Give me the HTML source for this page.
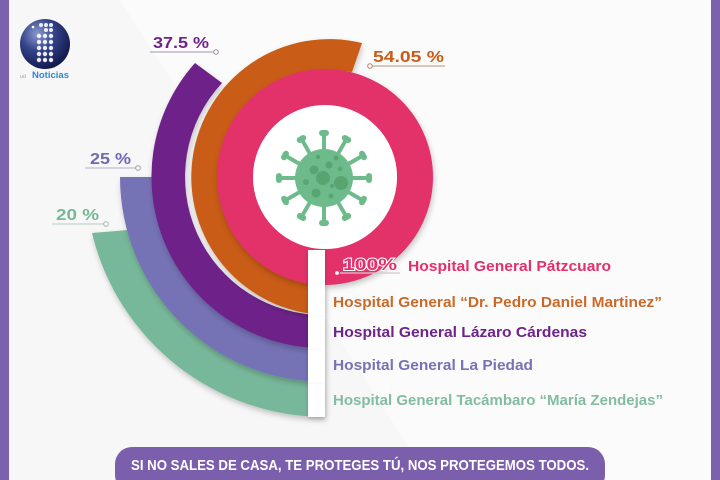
<!DOCTYPE html>
<html>
<head>
<meta charset="utf-8">
<style>
  html,body{margin:0;padding:0;background:#f8f8f8;}
  body{width:720px;height:480px;overflow:hidden;}
  svg{display:block;}
  text{font-family:"Liberation Sans",sans-serif;font-weight:bold;}
</style>
</head>
<body>
<svg width="720" height="480" viewBox="0 0 720 480" xmlns="http://www.w3.org/2000/svg">
  <defs>
    <filter id="sh" x="-20%" y="-20%" width="140%" height="140%">
      <feDropShadow dx="1" dy="3" stdDeviation="3" flood-color="#000" flood-opacity="0.22"/>
    </filter>
    <filter id="sh2" x="-50%" y="-50%" width="200%" height="200%">
      <feDropShadow dx="0" dy="2" stdDeviation="2" flood-color="#000" flood-opacity="0.18"/>
    </filter>
    <radialGradient id="globe" cx="35%" cy="30%" r="75%">
      <stop offset="0" stop-color="#8d9ad0"/>
      <stop offset="0.45" stop-color="#34438a"/>
      <stop offset="1" stop-color="#0f1748"/>
    </radialGradient>
  </defs>

  <!-- background -->
  <rect x="0" y="0" width="720" height="480" fill="#f7f7f7"/>
  <polygon points="120,0 712,0 712,480 430,480" fill="#fbfbfb"/>

  <!-- side bars -->
  <rect x="0" y="0" width="9" height="480" fill="#7b62ad"/>
  <rect x="711" y="0" width="9" height="480" fill="#7b62ad"/>

  <!-- logo -->
  <circle cx="45" cy="44" r="25" fill="url(#globe)"/>
  <g fill="#ffffff" opacity="0.9">
    <circle cx="41" cy="25" r="2"/><circle cx="46" cy="25" r="2"/><circle cx="51" cy="25" r="2"/>
    <circle cx="46" cy="30" r="2"/><circle cx="51" cy="30" r="2"/>
    <circle cx="39" cy="36" r="2.2"/><circle cx="45" cy="36" r="2.2"/><circle cx="51" cy="36" r="2.2"/>
    <circle cx="39" cy="42" r="2.2"/><circle cx="45" cy="42" r="2.2"/><circle cx="51" cy="42" r="2.2"/>
    <circle cx="39" cy="48" r="2.2"/><circle cx="45" cy="48" r="2.2"/><circle cx="51" cy="48" r="2.2"/>
    <circle cx="39" cy="54" r="2.2"/><circle cx="45" cy="54" r="2.2"/><circle cx="51" cy="54" r="2.2"/>
    <circle cx="39" cy="60" r="2.2"/><circle cx="45" cy="60" r="2.2"/><circle cx="51" cy="60" r="2.2"/>
  </g>
  <circle cx="33" cy="27" r="1.3" fill="#fff"/>
  <text x="20" y="78" font-size="5" fill="#b8b8c0">ud</text>
  <text x="32" y="78" font-size="9" fill="#2e86de" textLength="37" lengthAdjust="spacingAndGlyphs">Noticias</text>

  <!-- rings (outermost first) -->
  <path d="M325 417 A240 240 0 0 1 92 233 L128 230 A205 205 0 0 0 325 382 Z" fill="#78b89a" filter="url(#sh)"/>
  <path d="M325 382 A205 205 0 0 1 120 177 L154 177 A171 171 0 0 0 325 348 Z" fill="#7572b6" filter="url(#sh)"/>
  <path d="M325 348 A171 171 0 0 1 195 63 L222 83 A138 138 0 0 0 325 315 Z" fill="#6e2389" filter="url(#sh)"/>
  <path d="M325 315 A138 138 0 1 1 362 43 L352 72 A107 107 0 1 0 325 284 Z" fill="#c95c17" filter="url(#sh)"/>
  <circle cx="325" cy="177" r="90" fill="none" stroke="#e3306a" stroke-width="36" filter="url(#sh)"/>
  <circle cx="325" cy="177" r="72" fill="#ffffff"/>

  <!-- virus -->
  <g transform="translate(324,178)" fill="#6dbb8b">
    <g transform="rotate(0)"><rect x="-2" y="-44" width="4" height="18"/><rect x="-5" y="-48" width="10" height="6" rx="3"/></g>
    <g transform="rotate(30)"><rect x="-2" y="-44" width="4" height="18"/><rect x="-5" y="-48" width="10" height="6" rx="3"/></g>
    <g transform="rotate(60)"><rect x="-2" y="-44" width="4" height="18"/><rect x="-5" y="-48" width="10" height="6" rx="3"/></g>
    <g transform="rotate(90)"><rect x="-2" y="-44" width="4" height="18"/><rect x="-5" y="-48" width="10" height="6" rx="3"/></g>
    <g transform="rotate(120)"><rect x="-2" y="-44" width="4" height="18"/><rect x="-5" y="-48" width="10" height="6" rx="3"/></g>
    <g transform="rotate(150)"><rect x="-2" y="-44" width="4" height="18"/><rect x="-5" y="-48" width="10" height="6" rx="3"/></g>
    <g transform="rotate(180)"><rect x="-2" y="-44" width="4" height="18"/><rect x="-5" y="-48" width="10" height="6" rx="3"/></g>
    <g transform="rotate(210)"><rect x="-2" y="-44" width="4" height="18"/><rect x="-5" y="-48" width="10" height="6" rx="3"/></g>
    <g transform="rotate(240)"><rect x="-2" y="-44" width="4" height="18"/><rect x="-5" y="-48" width="10" height="6" rx="3"/></g>
    <g transform="rotate(270)"><rect x="-2" y="-44" width="4" height="18"/><rect x="-5" y="-48" width="10" height="6" rx="3"/></g>
    <g transform="rotate(300)"><rect x="-2" y="-44" width="4" height="18"/><rect x="-5" y="-48" width="10" height="6" rx="3"/></g>
    <g transform="rotate(330)"><rect x="-2" y="-44" width="4" height="18"/><rect x="-5" y="-48" width="10" height="6" rx="3"/></g>
    <circle cx="0" cy="0" r="29"/>
    <g fill="#58a572">
      <circle cx="-1" cy="0" r="7"/>
      <circle cx="17" cy="5" r="7"/>
      <circle cx="-10" cy="-8" r="4.5"/>
      <circle cx="5" cy="-13" r="3.5"/>
      <circle cx="-18" cy="4" r="3"/>
      <circle cx="-8" cy="15" r="4.5"/>
      <circle cx="7" cy="18" r="2.5"/>
      <circle cx="12" cy="-20" r="2.5"/>
      <circle cx="-6" cy="-21" r="2.2"/>
      <circle cx="16" cy="-9" r="2.2"/>
      <circle cx="8" cy="8" r="2"/>
    </g>
  </g>

  <!-- legend strip cards -->
  <rect x="308" y="250" width="17" height="35" fill="#ffffff" filter="url(#sh2)"/>
  <rect x="308" y="285" width="17" height="32" fill="#ffffff" filter="url(#sh2)"/>
  <rect x="308" y="317" width="17" height="33" fill="#ffffff" filter="url(#sh2)"/>
  <rect x="308" y="350" width="17" height="34" fill="#ffffff" filter="url(#sh2)"/>
  <rect x="308" y="384" width="17" height="33" fill="#ffffff" filter="url(#sh2)"/>

  <!-- 100% label -->
  <line x1="337" y1="273" x2="400" y2="273" stroke="#d9c6d0" stroke-width="1.2"/>
  <circle cx="337" cy="273" r="2.4" fill="#fff" stroke="#e3306a" stroke-width="1"/>
  <text x="343" y="270" font-size="17" fill="#e3306a" stroke="#ffffff" stroke-width="2" paint-order="stroke" textLength="54" lengthAdjust="spacingAndGlyphs">100%</text>

  <!-- legend text -->
  <text x="408" y="271" font-size="15" fill="#e3306a" textLength="203" lengthAdjust="spacingAndGlyphs">Hospital General Pátzcuaro</text>
  <text x="333" y="307" font-size="15" fill="#c96a2a" textLength="329" lengthAdjust="spacingAndGlyphs">Hospital General “Dr. Pedro Daniel Martinez”</text>
  <text x="333" y="337" font-size="15" fill="#6e2389" textLength="254" lengthAdjust="spacingAndGlyphs">Hospital General Lázaro Cárdenas</text>
  <text x="333" y="370" font-size="15" fill="#7572b6" textLength="200" lengthAdjust="spacingAndGlyphs">Hospital General La Piedad</text>
  <text x="333" y="405" font-size="15" fill="#82bd9f" textLength="330" lengthAdjust="spacingAndGlyphs">Hospital General Tacámbaro “María Zendejas”</text>

  <!-- percentage labels -->
  <text x="153" y="48" font-size="16" fill="#6e2389" textLength="56" lengthAdjust="spacingAndGlyphs">37.5 %</text>
  <line x1="150" y1="52" x2="214" y2="52" stroke="#b9a8c4" stroke-width="1.2"/>
  <circle cx="216" cy="52" r="2.3" fill="#fff" stroke="#a08aa8" stroke-width="1"/>

  <text x="373" y="62" font-size="16" fill="#c95c17" textLength="71" lengthAdjust="spacingAndGlyphs">54.05 %</text>
  <line x1="372" y1="66" x2="445" y2="66" stroke="#c9a88e" stroke-width="1.2"/>
  <circle cx="370" cy="66" r="2.3" fill="#fff" stroke="#b08870" stroke-width="1"/>

  <text x="90" y="164" font-size="16" fill="#6e6ab0" textLength="41" lengthAdjust="spacingAndGlyphs">25 %</text>
  <line x1="85" y1="168" x2="136" y2="168" stroke="#c0bed2" stroke-width="1.2"/>
  <circle cx="138" cy="168" r="2.3" fill="#fff" stroke="#9a98b0" stroke-width="1"/>

  <text x="56" y="220" font-size="16" fill="#78b697" textLength="43" lengthAdjust="spacingAndGlyphs">20 %</text>
  <line x1="52" y1="224" x2="104" y2="224" stroke="#c2d4ca" stroke-width="1.2"/>
  <circle cx="106" cy="224" r="2.3" fill="#fff" stroke="#a0b4a8" stroke-width="1"/>

  <!-- bottom pill -->
  <rect x="115" y="447" width="490" height="45" rx="17" fill="#7b5fac"/>
  <text x="360" y="470" font-size="15" fill="#ffffff" text-anchor="middle" textLength="458" lengthAdjust="spacingAndGlyphs">SI NO SALES DE CASA, TE PROTEGES TÚ, NOS PROTEGEMOS TODOS.</text>
</svg>
</body>
</html>
